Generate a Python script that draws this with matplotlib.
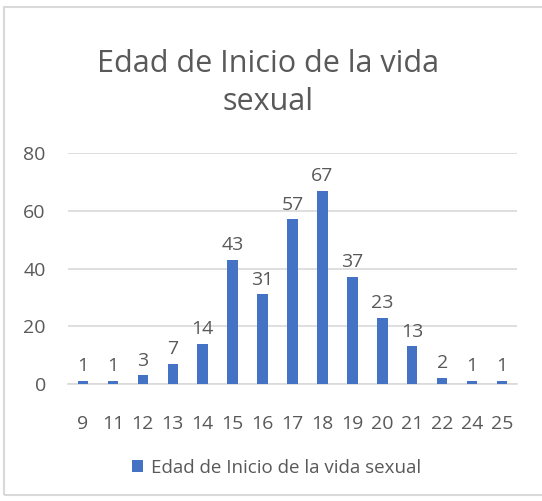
import matplotlib
matplotlib.use("Agg")
import matplotlib.pyplot as plt
from matplotlib.patches import Rectangle

ages = ["9", "11", "12", "13", "14", "15", "16", "17", "18", "19", "20", "21", "22", "24", "25"]
counts = [1, 1, 3, 7, 14, 43, 31, 57, 67, 37, 23, 13, 2, 1, 1]
series_name = "Edad de Inicio de la vida sexual"
title = "Edad de Inicio de la vida\nsexual"
yticks = [0, 20, 40, 60, 80]

plt.rcParams['font.family'] = ['Open Sans', 'DejaVu Sans']
text_color = "#595959"
bar_color = "#4472C4"

fig = plt.figure(figsize=(5.42, 5.01), dpi=100)
fig.patches.append(Rectangle((0.008, 0.012), 0.995, 0.974, transform=fig.transFigure,
                             fill=False, edgecolor="#D9D9D9", linewidth=1.5))

ax = fig.add_axes([68/542, 1-384/501, (517-68)/542, (384-153)/501])
x = range(len(ages))
bars = ax.bar(x, counts, width=0.35, color=bar_color, label=series_name, zorder=3)
for xi, v in zip(x, counts):
    ax.text(xi, v + 2.0, str(v), ha="center", va="bottom", fontsize=14, color=text_color)

ax.set_ylim(0, 80)
ax.set_xlim(-0.5, len(ages) - 0.5)
ax.set_yticks(yticks)
ax.set_yticklabels([str(t) for t in yticks], fontsize=14, color=text_color)
ax.set_xticks(list(x))
ax.set_xticklabels(ages, fontsize=14, color=text_color)
ax.tick_params(axis="both", length=0)
ax.tick_params(axis="y", pad=16)
ax.tick_params(axis="x", pad=22)
ax.grid(axis="y", color="#D9D9D9", linewidth=1.2, zorder=0)
for s in ["top", "right", "left"]:
    ax.spines[s].set_visible(False)
ax.spines["bottom"].set_color("#D9D9D9")
ax.spines["bottom"].set_linewidth(1.2)

fig.text(0.495, 1-83/501, title, ha="center", va="center", fontsize=22, color=text_color,
         linespacing=1.35)

leg = fig.legend(handles=[bars], labels=[series_name], loc="center", bbox_to_anchor=(0.51, 1-468/501),
                 frameon=False, fontsize=13.5, handlelength=0.6, handleheight=0.6, handletextpad=0.4,
                 labelcolor=text_color)

fig.savefig("out.png", dpi=100)
